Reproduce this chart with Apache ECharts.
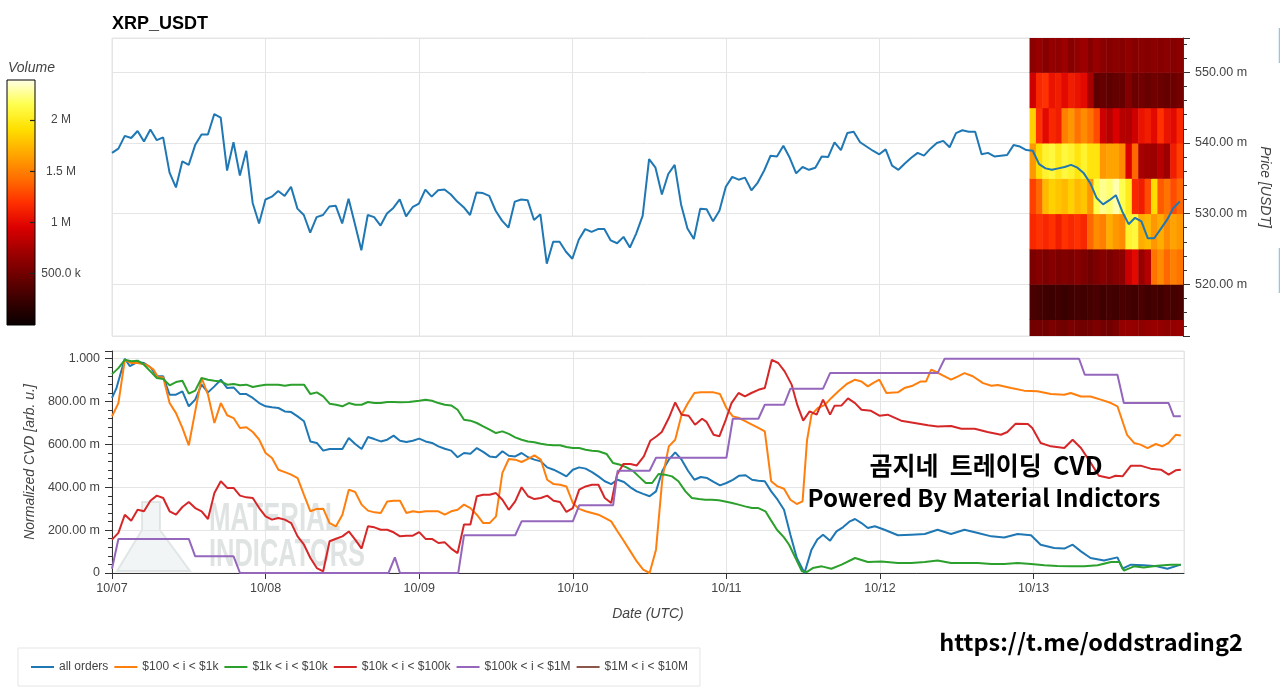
<!DOCTYPE html>
<html><head><meta charset="utf-8">
<script src="https://cdn.jsdelivr.net/npm/echarts/dist/echarts.min.js"></script>
<style>html,body{margin:0;padding:0;background:#fff}#chart{width:1280px;height:692px}</style>
</head><body><div id="chart"></div>
<script>
// ---------- data ----------
const dayLabels = ['10/07','10/08','10/09','10/10','10/11','10/12','10/13'];
const axisEndHour = 167.5;          // hours after 10/07 00:00 (UTC)

// hourly XRP price, milli-USDT, starting 10/07 00:00
const priceMilli = [
 538.6,539.2,541.0,540.7,541.7,540.2,541.9,540.4,540.8,535.8,533.7,537.4,536.9,539.7,541.2,541.2,544.1,543.6,536.1,540.1,535.4,538.9,531.5,528.6,
 532.0,532.4,533.2,532.5,533.8,530.7,529.8,527.3,529.5,529.8,531.0,531.1,528.6,532.1,528.5,524.8,529.8,529.5,528.3,530.0,530.8,532.0,529.6,530.9,
 531.4,533.4,532.4,533.3,533.4,532.7,531.7,530.9,529.8,533.0,532.9,532.5,530.4,529.0,528.0,531.7,532.0,531.9,529.1,529.9,522.9,526.0,526.0,524.6,
 523.6,526.3,527.8,527.4,527.8,527.8,526.2,525.8,526.7,525.2,527.2,529.7,537.7,536.5,532.7,535.6,536.9,531.3,527.9,526.4,530.7,530.6,528.9,530.4,
 533.8,535.2,534.8,535.1,533.3,534.4,536.1,538.2,538.1,539.6,537.9,535.7,536.6,536.2,536.5,538.1,538.0,540.1,539.0,541.4,541.6,540.1,539.5,538.9,
 538.4,539.1,536.8,536.2,537.1,537.9,538.6,538.2,539.2,540.0,540.3,539.4,541.4,541.8,541.6,541.6,538.4,538.6,538.1,538.2,538.3,539.7,539.5,539.0,
 538.9,537.0,536.4,536.2,536.4,536.6,536.9,536.5,535.7,534.3,532.2,531.3,531.9,532.6,530.3,528.5,529.4,528.9,526.5,526.5,527.8,529.1,530.8,531.7
];

// volume profile of the last 24 h (millions), rows = price bands (lower edge, milli-USDT)
const heatStartHour = 143.5;
const heatStepHour = 1;
const heatBandM = 5;
const heatRowLow = [510,515,520,525,530,535,540,545,550];
const heatVolM = [
 [0.50,0.52,0.50,0.55,0.52,0.50,0.55,0.52,0.50,0.52,0.55,0.52,0.50,0.55,0.66,0.68,0.66,0.64,0.66,0.68,0.66,0.64,0.66,0.68],
 [0.32,0.30,0.28,0.26,0.28,0.24,0.28,0.30,0.28,0.30,0.32,0.28,0.30,0.28,0.32,0.30,0.28,0.32,0.28,0.30,0.28,0.32,0.30,0.32],
 [0.55,0.60,0.55,0.60,0.55,0.58,0.55,0.60,0.55,0.50,0.55,0.60,0.55,0.60,0.62,0.88,1.00,0.68,0.80,1.45,1.55,1.40,1.50,1.45],
 [1.15,1.20,1.15,1.20,1.10,1.20,1.15,1.20,1.15,1.40,1.55,1.50,1.70,1.60,1.55,2.05,2.10,1.70,1.75,1.60,1.70,1.55,1.65,1.60],
 [1.25,1.40,1.75,1.85,1.80,1.75,1.85,1.75,1.80,1.60,2.15,2.25,2.20,2.30,2.15,2.00,1.15,1.10,1.30,1.90,1.35,1.45,1.30,1.40],
 [1.60,1.90,2.05,2.10,2.00,2.10,2.05,1.95,2.05,1.95,1.95,1.60,1.65,1.65,1.55,0.95,1.40,0.75,0.70,0.70,0.80,0.70,1.10,1.25],
 [1.85,1.20,1.00,1.15,1.10,1.50,1.60,1.45,1.55,1.45,1.30,0.90,0.80,0.95,0.80,0.78,0.90,1.05,1.10,1.00,1.20,1.05,1.00,1.15],
 [0.90,1.15,1.20,1.05,1.10,1.00,1.10,1.05,1.00,0.75,0.42,0.45,0.42,0.44,0.45,0.58,0.48,0.50,0.46,0.50,0.48,0.45,0.48,0.52],
 [0.62,0.68,0.60,0.66,0.64,0.70,0.60,0.66,0.70,0.60,0.68,0.62,0.60,0.62,0.60,0.64,0.60,0.62,0.60,0.62,0.60,0.62,0.60,0.62]
];
const volMaxM = 2.39;
const volTickInterval = 0.5;
const heatColors = ['#080000','#380000','#6c0000','#a00000','#dc0000','#ff3000','#ff7000','#ffa800','#ffe000','#ffff50','#ffffe8'];

// normalized CVD, [hour, value]
const cvdAll = [[0,0.817],[0.7,0.863],[2,1.0],[2.8,0.965],[4,0.985],[5,0.98],[6,0.96],[7,0.918],[8,0.918],[9,0.832],[10,0.832],[11,0.848],[12,0.778],[13,0.809],[14,0.879],[15,0.843],[16,0.871],[17,0.902],[18,0.863],[19,0.866],[20,0.835],[21,0.835],[22,0.817],[23,0.793],[24,0.778],[25,0.773],[26,0.770],[27,0.754],[28,0.751],[29,0.731],[30,0.708],[31,0.614],[32,0.607],[33,0.571],[34,0.579],[35,0.579],[36,0.579],[37,0.630],[38,0.602],[39,0.579],[40,0.635],[41,0.625],[42,0.614],[43,0.622],[44,0.641],[45,0.617],[46,0.611],[47,0.617],[48,0.627],[49,0.614],[50,0.607],[51,0.591],[52,0.580],[53,0.571],[54,0.540],[55,0.560],[56,0.557],[57,0.583],[58,0.565],[59,0.544],[60,0.540],[61,0.568],[62,0.547],[63,0.544],[64,0.560],[65,0.540],[66,0.529],[67,0.521],[68,0.493],[69,0.482],[70,0.467],[71,0.451],[72,0.482],[73,0.493],[74,0.487],[75,0.471],[76,0.451],[77,0.428],[78,0.415],[79,0.435],[80,0.425],[81,0.400],[82,0.381],[83,0.369],[84,0.358],[85,0.381],[86,0.477],[87,0.529],[88,0.563],[89,0.529],[90,0.477],[91,0.435],[92,0.448],[93,0.443],[94,0.425],[95,0.409],[96,0.420],[97,0.435],[98,0.454],[99,0.456],[100,0.435],[101,0.431],[102,0.428],[103,0.381],[104,0.342],[105,0.295],[106,0.179],[107,0.070],[108.2,0.0],[109.3,0.109],[110.2,0.156],[111.1,0.179],[112.2,0.151],[113.2,0.194],[114.2,0.213],[115.3,0.241],[116.1,0.252],[117.1,0.233],[118.1,0.210],[119.2,0.218],[120.7,0.202],[122.8,0.176],[124.9,0.179],[127,0.182],[129,0.202],[131.1,0.182],[133.2,0.202],[135.3,0.187],[137.4,0.171],[139.4,0.166],[141.5,0.182],[143.6,0.176],[145.1,0.132],[147.2,0.117],[148.8,0.114],[150.1,0.132],[151.4,0.101],[152.9,0.070],[155,0.058],[157.1,0.073],[157.9,0.020],[159.2,0.039],[161.2,0.036],[163.3,0.031],[164.9,0.020],[167,0.039]];
const cvd100 = [[0,0.731],[1,0.793],[2,0.995],[3,0.98],[4,0.98],[5.4,0.972],[6.5,0.949],[7.2,0.913],[8,0.913],[9,0.793],[10,0.746],[11,0.677],[12,0.596],[13,0.754],[14,0.910],[15,0.832],[16,0.700],[17,0.793],[18,0.736],[19,0.723],[20,0.677],[21,0.680],[22,0.658],[23,0.622],[24,0.560],[25,0.537],[26,0.482],[27,0.471],[28,0.459],[29,0.443],[30,0.365],[31,0.288],[32,0.299],[33,0.300],[34,0.233],[35,0.218],[36,0.272],[37,0.389],[38,0.378],[39,0.319],[40,0.291],[41,0.283],[42,0.280],[43,0.334],[44,0.337],[45,0.337],[46,0.280],[47,0.288],[48,0.283],[49,0.288],[50,0.288],[51,0.288],[52,0.272],[53,0.288],[54,0.295],[55,0.319],[56,0.303],[57,0.272],[58,0.233],[59,0.233],[60,0.264],[61,0.467],[62,0.532],[63,0.529],[64,0.518],[65,0.533],[66,0.549],[67,0.529],[68,0.435],[69,0.415],[70,0.412],[71,0.404],[72,0.327],[73,0.299],[74,0.288],[75,0.280],[76,0.272],[77,0.257],[78,0.241],[79,0.194],[80,0.148],[81,0.101],[82,0.054],[83,0.016],[84,0.0],[85,0.109],[86,0.443],[87,0.591],[88,0.622],[89,0.739],[90,0.793],[91,0.840],[92,0.844],[93,0.844],[94,0.843],[95,0.835],[96,0.770],[97,0.731],[98,0.723],[99,0.708],[100,0.692],[101,0.677],[102,0.661],[103,0.428],[104,0.404],[105,0.393],[106,0.342],[107,0.322],[107.9,0.334],[108.6,0.620],[109.3,0.739],[110.3,0.770],[111.4,0.785],[112.4,0.817],[113.5,0.848],[114.8,0.882],[116.1,0.902],[117.1,0.894],[118.1,0.871],[118.9,0.886],[119.9,0.902],[121,0.840],[122.8,0.843],[123.8,0.863],[125.1,0.874],[126.4,0.894],[127.2,0.894],[128,0.949],[128.8,0.938],[129.8,0.922],[131.1,0.902],[132.2,0.918],[133.2,0.933],[134.5,0.918],[136.1,0.886],[137.4,0.874],[138.4,0.877],[140.5,0.863],[142.5,0.851],[144.6,0.848],[146.7,0.835],[148.8,0.832],[149.8,0.840],[151.4,0.824],[152.9,0.824],[154.5,0.809],[156.1,0.793],[157.1,0.778],[158.6,0.645],[159.7,0.607],[160.7,0.599],[161.8,0.583],[163.1,0.602],[164.1,0.591],[165.1,0.607],[166.2,0.645],[167,0.642]];
const cvd1k = [[0,0.928],[1,0.956],[2,0.995],[3,0.988],[4,0.991],[5,0.972],[6,0.941],[7,0.910],[8,0.905],[9,0.876],[10,0.891],[11,0.897],[12,0.837],[13,0.851],[14,0.910],[15,0.902],[16,0.897],[17,0.894],[18,0.879],[19,0.882],[20,0.876],[21,0.879],[22,0.868],[23,0.874],[24,0.879],[25,0.879],[26,0.879],[27,0.874],[28,0.879],[29,0.879],[30,0.879],[31,0.835],[32,0.843],[33,0.824],[34,0.790],[35,0.785],[36,0.778],[37,0.793],[38,0.785],[39,0.785],[40,0.798],[41,0.793],[42,0.793],[43,0.798],[44,0.798],[45,0.797],[46.4,0.798],[48,0.804],[49,0.809],[50,0.804],[51,0.793],[52,0.785],[53,0.782],[54,0.762],[55,0.715],[56,0.711],[57,0.700],[58,0.684],[59,0.669],[60,0.653],[61,0.661],[62,0.649],[63,0.633],[64,0.622],[65,0.614],[66,0.610],[67,0.603],[68,0.599],[69,0.596],[70,0.596],[71,0.588],[72,0.583],[73,0.583],[74,0.575],[75,0.571],[76,0.568],[77.3,0.555],[78.3,0.513],[79.4,0.505],[80.4,0.493],[81.5,0.474],[82.3,0.451],[83.4,0.420],[84.4,0.420],[85.4,0.462],[86.4,0.459],[87.5,0.451],[88.5,0.428],[89.6,0.381],[90.6,0.350],[91.7,0.345],[92.7,0.342],[93.7,0.342],[94.8,0.339],[95.8,0.334],[96.9,0.327],[97.9,0.319],[98.9,0.311],[100,0.303],[101,0.303],[102.1,0.288],[102.9,0.249],[103.9,0.202],[105,0.166],[105.8,0.132],[106.8,0.070],[107.8,0.008],[108.6,0.005],[109.5,0.023],[110.9,0.031],[112.4,0.020],[114,0.039],[116.1,0.070],[118.1,0.051],[120.2,0.054],[122.8,0.047],[124.9,0.047],[127,0.051],[129,0.058],[131.1,0.047],[133.2,0.047],[135.3,0.047],[137.4,0.042],[139.4,0.042],[141.5,0.047],[143.6,0.042],[145.7,0.036],[147.7,0.033],[149.8,0.031],[151.9,0.031],[154,0.036],[156.1,0.051],[157.4,0.051],[158.1,0.011],[159.7,0.031],[161.2,0.026],[163.3,0.034],[165.4,0.039],[167,0.039]];
const cvd10k = [[0,0.156],[1,0.187],[2,0.272],[3,0.244],[4,0.295],[5,0.288],[6,0.337],[7,0.361],[8,0.350],[9,0.288],[10,0.272],[11,0.308],[12,0.331],[13,0.303],[14,0.288],[15,0.252],[16,0.373],[17,0.428],[18,0.397],[19,0.397],[20,0.361],[21,0.353],[22,0.350],[23,0.303],[24,0.264],[25,0.249],[26,0.257],[27,0.249],[28,0.233],[29,0.171],[30,0.132],[31,0.070],[32,0.023],[33,0.008],[34,0.148],[35,0.160],[36,0.171],[37,0.194],[38,0.156],[39,0.114],[40,0.218],[41,0.213],[42,0.202],[43,0.202],[44,0.190],[45,0.171],[46,0.174],[47,0.174],[48,0.191],[49,0.159],[50,0.159],[51,0.140],[52,0.143],[53,0.114],[54,0.093],[55,0.226],[56,0.226],[57,0.358],[58,0.365],[59,0.365],[60,0.373],[61,0.342],[62,0.295],[63,0.334],[64,0.400],[65,0.358],[66,0.345],[67,0.350],[68,0.361],[69,0.337],[70,0.331],[71,0.285],[72,0.303],[73,0.389],[74,0.404],[75,0.412],[76,0.412],[77,0.350],[78,0.327],[78.9,0.459],[79.9,0.509],[81,0.509],[82,0.502],[83.1,0.544],[84.1,0.617],[85.1,0.638],[85.9,0.658],[87,0.723],[88,0.796],[89,0.739],[90.1,0.734],[91.1,0.692],[92.2,0.720],[92.9,0.705],[94,0.645],[94.9,0.638],[95.9,0.715],[96.8,0.793],[97.9,0.840],[98.9,0.824],[99.9,0.840],[101,0.855],[102,0.863],[103.1,0.995],[104.1,0.980],[105.1,0.941],[106.2,0.879],[107.1,0.782],[108,0.711],[109,0.754],[110.1,0.739],[111.1,0.809],[112.2,0.739],[112.9,0.781],[114,0.782],[115,0.815],[116.1,0.793],[117.1,0.762],[118.6,0.757],[119.9,0.734],[121.2,0.739],[123.3,0.711],[125.4,0.700],[127.5,0.689],[129,0.684],[131.1,0.686],[132.7,0.673],[134.8,0.673],[136.8,0.658],[138.9,0.645],[139.9,0.658],[141.2,0.697],[143.1,0.695],[143.8,0.677],[145.1,0.607],[146.7,0.591],[148.8,0.583],[150.1,0.622],[151.4,0.583],[152.6,0.529],[154.2,0.454],[155.8,0.443],[156.8,0.454],[157.9,0.451],[159.2,0.501],[160.7,0.501],[162.3,0.487],[163.9,0.482],[165.1,0.459],[166.2,0.479],[167,0.482]];
const cvd100k = [[0,0.02],[1,0.159],[12,0.159],[13,0.078],[19,0.078],[20,0],[43.2,0],[44.2,0.073],[45,0],[54.1,0],[55,0.176],[63,0.176],[64,0.241],[72,0.241],[73,0.316],[78.3,0.316],[79,0.477],[84,0.477],[85,0.538],[96,0.538],[97,0.720],[101,0.720],[102,0.785],[105,0.785],[106,0.860],[111.1,0.860],[112.2,0.933],[129,0.933],[130.1,1.0],[151.1,1.0],[152,0.925],[157.1,0.925],[158.1,0.793],[165.1,0.793],[165.9,0.731],[167,0.731]];
const cvd1M = [];

const cvdNames = ['all orders','$100 < i < $1k','$1k < i < $10k','$10k < i < $100k','$100k < i < $1M','$1M < i < $10M'];
const cvdSeriesData = [cvdAll, cvd100, cvd1k, cvd10k, cvd100k, cvd1M];
const cvdColors = ['#1f77b4','#ff7f0e','#2ca02c','#d62728','#9467bd','#8c564b'];

// ---------- build ----------
const heatData = [];
heatRowLow.forEach((p, r) => heatVolM[r].forEach((v, c) => {
  const t0 = heatStartHour + c * heatStepHour;
  heatData.push([t0, t0 + heatStepHour, p, p + heatBandM, v]);
}));

const FONT = 'Liberation Sans, Arial, sans-serif';
const GRID_C = '#e5e5e5', AX_C = '#333', LBL_C = '#444';
const nameStyle = {fontStyle: 'italic', fontSize: 14, color: LBL_C, fontFamily: FONT};

function cvdFmt(v) {
  if (v === 0) return '0';
  if (v >= 0.9999) return v.toFixed(3);
  return (v * 1000).toFixed(2) + ' m';
}
function volFmt(v) {
  return v >= 1 ? (+v.toFixed(2)) + ' M' : (v * 1000).toFixed(1) + ' k';
}

const chart = echarts.init(document.getElementById('chart'), null, {renderer: 'canvas'});
const series = [
  {
    type: 'custom', name: 'volume', xAxisIndex: 0, yAxisIndex: 0, z: 1, silent: true,
    data: heatData, encode: {x: [0, 1], y: [2, 3]},
    renderItem: function (params, api) {
      const a = api.coord([api.value(0), api.value(3)]);
      const b = api.coord([api.value(1), api.value(2)]);
      const cs = params.coordSys;
      const rect = echarts.graphic.clipRectByRect(
        {x: a[0], y: a[1], width: b[0] - a[0] + 0.5, height: b[1] - a[1] + 0.5},
        {x: cs.x, y: cs.y, width: cs.width, height: cs.height});
      if (!rect) return;
      return {type: 'rect', shape: rect, style: {fill: api.visual('color')}};
    }
  },
  {
    type: 'line', name: 'price', xAxisIndex: 0, yAxisIndex: 0, z: 3,
    data: priceMilli.map((v, i) => [i, v]), symbol: 'none',
    lineStyle: {color: '#1f77b4', width: 2}, itemStyle: {color: '#1f77b4'}
  }
];
cvdNames.forEach((n, k) => series.push({
  type: 'line', name: n, xAxisIndex: 1, yAxisIndex: 1, z: 3,
  data: cvdSeriesData[k], symbol: 'none', showSymbol: false,
  lineStyle: {color: cvdColors[k], width: 2}, itemStyle: {color: cvdColors[k]}
}));

const wmFont = 'Liberation Sans, Arial, sans-serif';
const option = {
  animation: false,
  backgroundColor: '#fff',
  textStyle: {fontFamily: FONT},
  title: {text: 'XRP_USDT', left: 107, top: 10, textStyle: {fontSize: 18, fontWeight: 'bold', color: '#000', fontFamily: FONT}},
  grid: [
    {left: 112, right: 96, top: 38, height: 298, show: true, borderColor: GRID_C, borderWidth: 1, backgroundColor: 'transparent'},
    {left: 112, right: 96, top: 351, height: 222, show: true, borderColor: GRID_C, borderWidth: 1, backgroundColor: 'transparent'},
    {left: 7, top: 80, width: 28, height: 245}
  ],
  xAxis: [
    {type: 'value', gridIndex: 0, min: 0, max: axisEndHour, interval: 24,
     axisLine: {show: false, onZero: false}, axisTick: {show: false}, axisLabel: {show: false},
     splitLine: {show: true, lineStyle: {color: GRID_C}}},
    {type: 'value', gridIndex: 1, min: 0, max: axisEndHour, interval: 24,
     axisLine: {show: true, onZero: false, lineStyle: {color: AX_C, width: 1}},
     axisTick: {show: true, length: 6, lineStyle: {color: AX_C}},
     axisLabel: {color: LBL_C, fontSize: 12.5, margin: 9, showMaxLabel: false,
                 formatter: v => dayLabels[Math.round(v / 24)] || ''},
     splitLine: {show: true, lineStyle: {color: GRID_C}},
     name: 'Date (UTC)', nameLocation: 'middle', nameGap: 34, nameTextStyle: nameStyle},
    {type: 'value', gridIndex: 2, show: false, min: 0, max: 1, axisLine: {onZero: false}}
  ],
  yAxis: [
    {type: 'value', gridIndex: 0, position: 'right', min: 512.66, max: 554.87,
     axisLine: {show: true, onZero: false, lineStyle: {color: AX_C}},
     axisTick: {show: true, length: 7, lineStyle: {color: AX_C}},
     minorTick: {show: true, splitNumber: 5, length: 4, lineStyle: {color: AX_C}},
     axisLabel: {color: LBL_C, fontSize: 12.5, margin: 12, showMinLabel: false, showMaxLabel: false,
                 formatter: v => v.toFixed(2) + ' m'},
     splitLine: {show: true, lineStyle: {color: GRID_C}},
     name: 'Price [USDT]', nameLocation: 'middle', nameRotate: -90, nameGap: 74, nameTextStyle: nameStyle},
    {type: 'value', gridIndex: 1, position: 'left', min: 0, max: 1.036, interval: 0.2,
     axisLine: {show: true, onZero: false, lineStyle: {color: AX_C}},
     axisTick: {show: true, length: 7, lineStyle: {color: AX_C}},
     minorTick: {show: true, splitNumber: 5, length: 4, lineStyle: {color: AX_C}},
     axisLabel: {color: LBL_C, fontSize: 12.5, margin: 12, showMaxLabel: false, formatter: cvdFmt},
     splitLine: {show: true, lineStyle: {color: GRID_C}},
     name: 'Normalized CVD [arb. u.]', nameLocation: 'middle', nameGap: 74, nameTextStyle: nameStyle},
    {type: 'value', gridIndex: 2, position: 'right', min: 0, max: volMaxM, interval: volTickInterval, z: 10,
     axisLine: {show: false, onZero: false},
     axisTick: {show: true, inside: true, length: 5, lineStyle: {color: '#222', width: 1.2}},
     axisLabel: {color: LBL_C, fontSize: 12, margin: 26, align: 'center', showMinLabel: false, showMaxLabel: false, formatter: volFmt},
     splitLine: {show: false}}
  ],
  visualMap: [{type: 'continuous', show: false, min: 0, max: volMaxM, dimension: 4, seriesIndex: 0,
               inRange: {color: heatColors}}],
  legend: {
    data: cvdNames.map(n => ({name: n, icon: 'rect'})), left: 18, top: 648, orient: 'horizontal',
    itemWidth: 23, itemHeight: 2, itemGap: 6,
    padding: [13, 12, 13, 13], borderColor: GRID_C, borderWidth: 1, backgroundColor: '#fff',
    textStyle: {fontSize: 12, color: LBL_C, fontFamily: FONT},
    selectedMode: false
  },
  graphic: [
    // colour bar
    {type: 'rect', z: -10, shape: {x: 7, y: 80, width: 28, height: 245},
     style: {fill: new echarts.graphic.LinearGradient(0, 1, 0, 0,
        heatColors.map((c, i) => ({offset: i / (heatColors.length - 1), color: c}))),
        stroke: '#000', lineWidth: 1}},
    {type: 'text', z: 5, x: 8, y: 68, style: {text: 'Volume', fontSize: 14, fontStyle: 'italic', fill: LBL_C, fontFamily: FONT, textVerticalAlign: 'middle'}},
    // watermark
    {type: 'polygon', z: 0, shape: {points: [[142,502],[160,502],[160,530],[190,571],[117,571],[142,530]]},
     style: {fill: 'rgba(228,235,235,0.5)', stroke: 'rgba(205,214,214,0.55)', lineWidth: 2}},
    {type: 'text', z: 0, x: 209, y: 520, scaleX: 0.68, originX: 0, originY: 0,
     style: {text: 'MATERIAL', fontSize: 38, fontWeight: 'bold', fontFamily: wmFont, fill: 'rgba(180,188,188,0.42)', textVerticalAlign: 'middle'}},
    {type: 'text', z: 0, x: 209, y: 556, scaleX: 0.67, originX: 0, originY: 0,
     style: {text: 'INDICATORS', fontSize: 38, fontWeight: 'bold', fontFamily: wmFont, fill: 'rgba(180,188,188,0.42)', textVerticalAlign: 'middle'}},
    // overlay captions
    {type: 'text', z: 100, x: 986, y: 465, style: {text: '곰지네  트레이딩  CVD', fontSize: 25, fontWeight: 'bold', fontFamily: 'Noto Sans CJK KR', fill: '#000', textAlign: 'center', textVerticalAlign: 'middle'}},
    {type: 'text', z: 100, x: 984, y: 498, style: {text: 'Powered By Material Indictors', fontSize: 24, fontWeight: 'bold', fontFamily: 'Noto Sans CJK KR', fill: '#000', textAlign: 'center', textVerticalAlign: 'middle'}},
    {type: 'text', z: 100, x: 1091, y: 642, style: {text: 'https://t.me/oddstrading2', fontSize: 23.5, fontWeight: 'bold', fontFamily: 'Noto Sans CJK KR', fill: '#000', textAlign: 'center', textVerticalAlign: 'middle'}},
    // toolbar slivers at right edge
    {type: 'line', z: 5, shape: {x1: 1279.5, y1: 28, x2: 1279.5, y2: 63}, style: {stroke: '#8ecae6', lineWidth: 1.5}},
    {type: 'line', z: 5, shape: {x1: 1279.5, y1: 248, x2: 1279.5, y2: 293}, style: {stroke: '#8ecae6', lineWidth: 1.5}}
  ],
  series: series
};
chart.setOption(option);
</script></body></html>
